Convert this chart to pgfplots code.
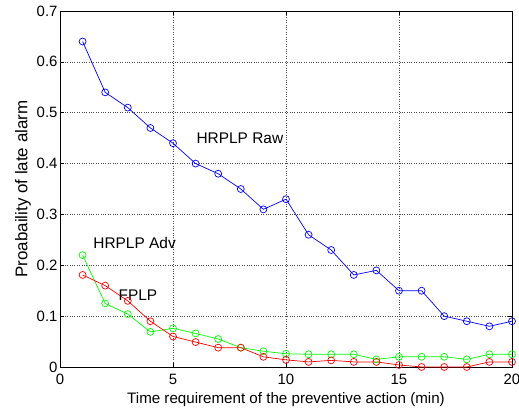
\documentclass[border=0pt]{standalone}
\usepackage{pgfplots}
\pgfplotsset{compat=1.18}
\usepackage{fontspec}
\setmainfont{Liberation Sans}
\begin{document}
\begin{tikzpicture}
\begin{axis}[
  name=ax,
  scale only axis,
  width=452bp, height=356bp,
  xmin=0, xmax=20, ymin=0, ymax=0.7,
  xtick={0,5,10,15,20},
  ytick={0,0.1,0.2,0.3,0.4,0.5,0.6,0.7},
  yticklabel style={/pgf/number format/fixed, xshift=1pt},
  /pgf/number format/assume math mode=true,
  tick label style={font=\fontsize{15}{17}\selectfont},
  xlabel style={font=\fontsize{15.2}{17}\selectfont},
  ylabel style={font=\fontsize{17}{19}\selectfont},
  xlabel={Time requirement of the preventive action (min)},
  ylabel={Proabaility of late alarm},
  xticklabel style={yshift=-4pt},
  xlabel style={yshift=-1pt},
  ylabel style={yshift=-1pt},
  grid=major,
  major grid style={black!70, dotted, line width=0.5pt},
  tick align=inside,
  ticks=both,
  major tick length=4pt,
  axis line style={black, line width=0.8pt},
  every tick/.style={black, line width=0.5pt},
  clip=false,
]
\addplot[blue, line width=0.7pt, mark=o, mark size=3.5pt, mark options={solid}] coordinates {
(1,0.64)(2,0.54)(3,0.51)(4,0.47)(5,0.44)(6,0.40)(7,0.38)(8,0.35)(9,0.31)(10,0.33)
(11,0.26)(12,0.23)(13,0.181)(14,0.19)(15,0.15)(16,0.15)(17,0.10)(18,0.09)(19,0.08)(20,0.09)};
\addplot[green, line width=0.7pt, mark=o, mark size=3.5pt] coordinates {
(1,0.22)(2,0.125)(3,0.104)(4,0.069)(5,0.076)(6,0.066)(7,0.055)(8,0.038)(9,0.031)(10,0.026)
(11,0.025)(12,0.025)(13,0.025)(14,0.015)(15,0.02)(16,0.02)(17,0.02)(18,0.015)(19,0.025)(20,0.025)};
\addplot[red, line width=0.7pt, mark=o, mark size=3.5pt] coordinates {
(1,0.181)(2,0.16)(3,0.13)(4,0.09)(5,0.06)(6,0.049)(7,0.038)(8,0.038)(9,0.02)(10,0.014)
(11,0.01)(12,0.013)(13,0.01)(14,0.01)(15,0.004)(16,0)(17,0)(18,0)(19,0.01)(20,0.01)};
\node[font=\fontsize{15.5}{17}\selectfont] at (axis cs:7.96,0.45) {HRPLP Raw};
\node[font=\fontsize{15.5}{17}\selectfont] at (axis cs:3.3,0.244) {HRPLP Adv};
\node[font=\fontsize{15.5}{17}\selectfont] at (axis cs:3.45,0.141) {FPLP};
\end{axis}
\pgfresetboundingbox
\path[use as bounding box] ([shift={(-60bp,-45bp)}]ax.south west) rectangle ([shift={(7bp,11bp)}]ax.north east);
\end{tikzpicture}
\end{document}
